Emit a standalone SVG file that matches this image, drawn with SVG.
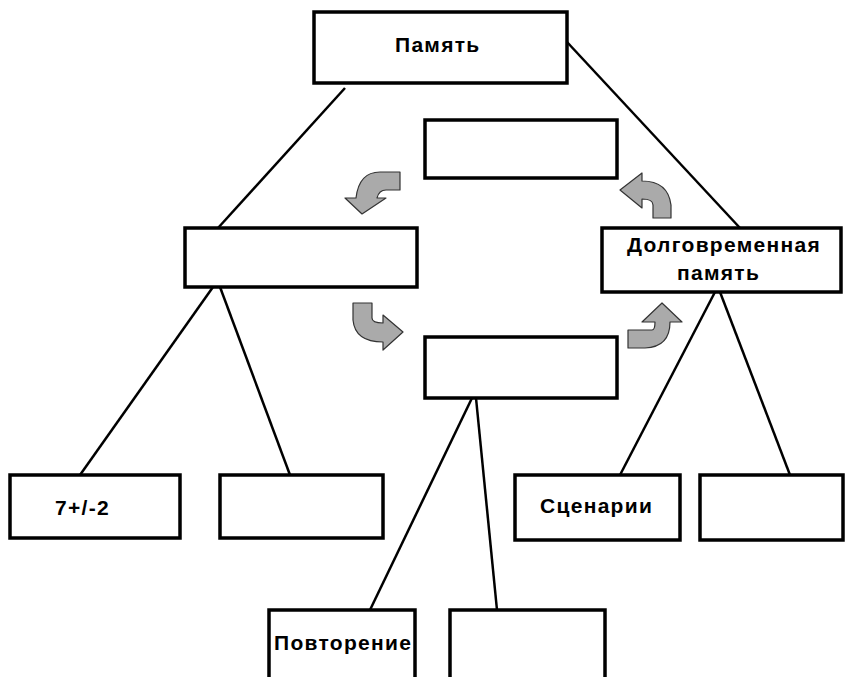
<svg xmlns="http://www.w3.org/2000/svg" width="846" height="677" viewBox="0 0 846 677">
<style>
.box{fill:#fff;stroke:#000;stroke-width:3.5}
.ln{stroke:#000;stroke-width:2.5;fill:none}
.t{font-family:"Liberation Sans",Arial,sans-serif;font-weight:bold;font-size:21px;letter-spacing:1.3px;fill:#000}
.arr{fill:#aaaaaa;stroke:#333;stroke-width:1.2;stroke-linejoin:round}
</style>
<rect width="846" height="677" fill="#fff"/>
<g id="connectors">
<line class="ln" x1="345" y1="88" x2="218" y2="228"/>
<line class="ln" x1="567" y1="42" x2="740" y2="228"/>
<line class="ln" x1="213" y1="287" x2="80" y2="475"/>
<line class="ln" x1="220" y1="287" x2="290" y2="475"/>
<line class="ln" x1="472" y1="398" x2="370" y2="610"/>
<line class="ln" x1="476" y1="398" x2="497" y2="610"/>
<line class="ln" x1="715" y1="292" x2="620" y2="475"/>
<line class="ln" x1="720" y1="292" x2="790" y2="475"/>
</g>
<g id="arrows">
<path class="arr" d="M400,172 L400,190 L386,190 Q379,190 377,198 L386,198 L362,214 L345,198 L356,198 Q359,172 380,172 Z"/>
<path class="arr" d="M620,190 L642,173 L642,181 Q668,181 671,205 L671,218 L653,218 L653,205 Q653,199 642,199 L642,208 Z"/>
<path class="arr" d="M353,303 L372,303 L372,318 Q372,323 383,323 L383,315 L403,332 L383,350 L383,342 Q355,342 353,320 Z"/>
<path class="arr" d="M628,330 L652,330 Q655,330 655,322 L642,322 L662,303 L682,322 L670,322 Q670,347 645,348 L628,348 Z"/>
</g>
<g id="n-pamyat"><rect class="box" x="314" y="12" width="253" height="71"/><text class="t" x="395" y="52">Память</text></g>
<g id="n-top-empty"><rect class="box" x="425" y="120" width="192" height="58"/></g>
<g id="n-left-empty"><rect class="box" x="185" y="228" width="232" height="59"/></g>
<g id="n-long"><rect class="box" x="602" y="228" width="239" height="64"/><text class="t" x="627" y="252">Долговременная</text><text class="t" x="677" y="280">память</text></g>
<g id="n-mid-empty"><rect class="box" x="425" y="337" width="192" height="61"/></g>
<g id="n-72"><rect class="box" x="10" y="475" width="170" height="63"/><text class="t" x="55" y="515">7+/-2</text></g>
<g id="n-b2"><rect class="box" x="220" y="475" width="163" height="63"/></g>
<g id="n-scen"><rect class="box" x="515" y="475" width="165" height="65"/><text class="t" x="540" y="513">Сценарии</text></g>
<g id="n-b4"><rect class="box" x="700" y="475" width="143" height="65"/></g>
<g id="n-povt"><rect class="box" x="269" y="610" width="146" height="80"/><text class="t" x="274" y="650">Повторение</text></g>
<g id="n-b6"><rect class="box" x="450" y="610" width="155" height="80"/></g>
</svg>
